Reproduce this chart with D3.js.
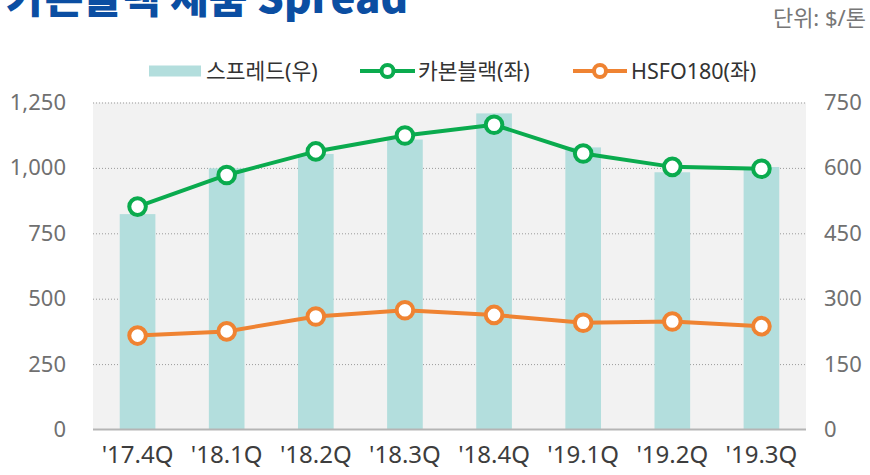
<!DOCTYPE html>
<html>
<head>
<meta charset="utf-8">
<script src="https://cdn.jsdelivr.net/npm/d3@7"></script>
<style>
  html, body { margin: 0; padding: 0; background: #fff; }
  svg { display: block; font-family: "Noto Sans", "Noto Sans CJK KR", sans-serif; }
</style>
</head>
<body>
<div id="chart"></div>
<script>
"use strict";

// data
const quarters = ["'17.4Q", "'18.1Q", "'18.2Q", "'18.3Q", "'18.4Q", "'19.1Q", "'19.2Q", "'19.3Q"];
const spread = [494, 599, 632, 665, 725, 647, 590, 602];          // right axis
const carbonBlack = [852, 973, 1063, 1124, 1165, 1055, 1004, 997]; // left axis
const hsfo180 = [359, 375, 432, 456, 438, 408, 413, 395];          // left axis
const leftTicks = [0, 250, 500, 750, 1000, 1250];
const rightTicks = [0, 150, 300, 450, 600, 750];

(function() {
    const width = 870, height = 475;
    const plot = { left: 93, right: 806, top: 102.5, bottom: 429.5 };

    const colors = {
        bar: "#b3dedd",
        green: "#0aab4e",
        orange: "#ef8332",
        bg: "#f2f2f2",
        title: "#0b4ea2",
    };

    window.addEventListener("load", init);

    function init() {
        const svg = d3.select("#chart").append("svg")
            .attr("width", width)
            .attr("height", height);

        const x = d3.scaleBand()
            .domain(quarters)
            .range([plot.left, plot.right])
            .paddingInner(0.6)
            .paddingOuter(0.3);
        const yL = d3.scaleLinear().domain([0, 1250]).range([plot.bottom, plot.top]);
        const yR = d3.scaleLinear().domain([0, 750]).range([plot.bottom, plot.top]);
        const cx = (d) => x(d) + x.bandwidth() / 2;

        // title (clipped at top as in the source) and unit
        svg.append("text")
            .attr("x", 6).attr("y", 13)
            .attr("font-family", "'Noto Sans CJK KR', sans-serif")
            .attr("font-weight", 900)
            .attr("font-size", 42)
            .attr("fill", colors.title)
            .text("카본블랙 제품 Spread");
        svg.append("text")
            .attr("x", 866).attr("y", 26)
            .attr("text-anchor", "end")
            .attr("font-size", 22)
            .attr("fill", "#777")
            .text("단위: $/톤");

        // plot background
        svg.append("rect")
            .attr("x", plot.left).attr("y", plot.top)
            .attr("width", plot.right - plot.left)
            .attr("height", plot.bottom - plot.top)
            .attr("fill", colors.bg);

        // dotted grid
        svg.append("g")
            .attr("transform", "translate(" + plot.left + ",0)")
            .call(d3.axisLeft(yL).tickValues(leftTicks.slice(1))
                .tickSize(-(plot.right - plot.left)).tickFormat(""))
            .call(g => g.select(".domain").remove())
            .call(g => g.selectAll(".tick line")
                .attr("stroke", "#9a9a9a")
                .attr("stroke-dasharray", "1,2"));

        // bars
        svg.append("g").selectAll("rect")
            .data(spread)
            .join("rect")
                .attr("x", (d, i) => x(quarters[i]))
                .attr("y", d => yR(d))
                .attr("width", x.bandwidth())
                .attr("height", d => yR(0) - yR(d))
                .attr("fill", colors.bar);

        // baseline
        svg.append("line")
            .attr("x1", plot.left).attr("x2", plot.right)
            .attr("y1", plot.bottom).attr("y2", plot.bottom)
            .attr("stroke", "#b5b5b5")
            .attr("stroke-width", 2);

        // left axis labels
        svg.append("g")
            .attr("transform", "translate(66,0)")
            .call(d3.axisLeft(yL).tickValues(leftTicks).tickSize(0).tickPadding(0)
                .tickFormat(d3.format(",")))
            .call(g => g.select(".domain").remove())
            .call(g => g.selectAll("text")
                .attr("font-family", "'Noto Sans', sans-serif")
                .attr("font-size", 22)
                .attr("fill", "#707070"));

        // right axis labels
        svg.append("g")
            .attr("transform", "translate(824,0)")
            .call(d3.axisRight(yR).tickValues(rightTicks).tickSize(0).tickPadding(0))
            .call(g => g.select(".domain").remove())
            .call(g => g.selectAll("text")
                .attr("font-family", "'Noto Sans', sans-serif")
                .attr("font-size", 22)
                .attr("fill", "#707070"));

        // x axis labels
        svg.append("g")
            .attr("transform", "translate(0," + plot.bottom + ")")
            .call(d3.axisBottom(x).tickSize(0).tickPadding(16))
            .call(g => g.select(".domain").remove())
            .call(g => g.selectAll("text")
                .attr("font-family", "'Noto Sans', sans-serif")
                .attr("font-size", 24)
                .attr("fill", "#3d3d3d"));

        // lines
        drawLine(svg, carbonBlack, colors.green);
        drawLine(svg, hsfo180, colors.orange);

        function drawLine(svg, values, color) {
            const line = d3.line()
                .x((d, i) => cx(quarters[i]))
                .y(d => yL(d));
            svg.append("path")
                .datum(values)
                .attr("d", line)
                .attr("fill", "none")
                .attr("stroke", color)
                .attr("stroke-width", 4);
            svg.append("g").selectAll("circle")
                .data(values)
                .join("circle")
                    .attr("cx", (d, i) => cx(quarters[i]))
                    .attr("cy", d => yL(d))
                    .attr("r", 8.3)
                    .attr("fill", "#fff")
                    .attr("stroke", color)
                    .attr("stroke-width", 4);
        }

        // legend
        const lg = svg.append("g").attr("font-size", 21.5).attr("fill", "#333");
        const ly = 71;
        lg.append("rect")
            .attr("x", 149).attr("y", ly - 5.5)
            .attr("width", 52).attr("height", 11)
            .attr("fill", colors.bar);
        lg.append("text").attr("x", 206).attr("y", ly + 7.5).text("스프레드(우)");
        legendLine(360, 415, colors.green);
        lg.append("text").attr("x", 418).attr("y", ly + 7.5).text("카본블랙(좌)");
        legendLine(573, 627, colors.orange);
        lg.append("text").attr("x", 631).attr("y", ly + 7.5).text("HSFO180(좌)");

        function legendLine(x1, x2, color) {
            lg.append("line")
                .attr("x1", x1).attr("x2", x2)
                .attr("y1", ly).attr("y2", ly)
                .attr("stroke", color).attr("stroke-width", 4);
            lg.append("circle")
                .attr("cx", (x1 + x2) / 2).attr("cy", ly)
                .attr("r", 6).attr("fill", "#fff")
                .attr("stroke", color).attr("stroke-width", 4);
        }
    }
})();
</script>
</body>
</html>
